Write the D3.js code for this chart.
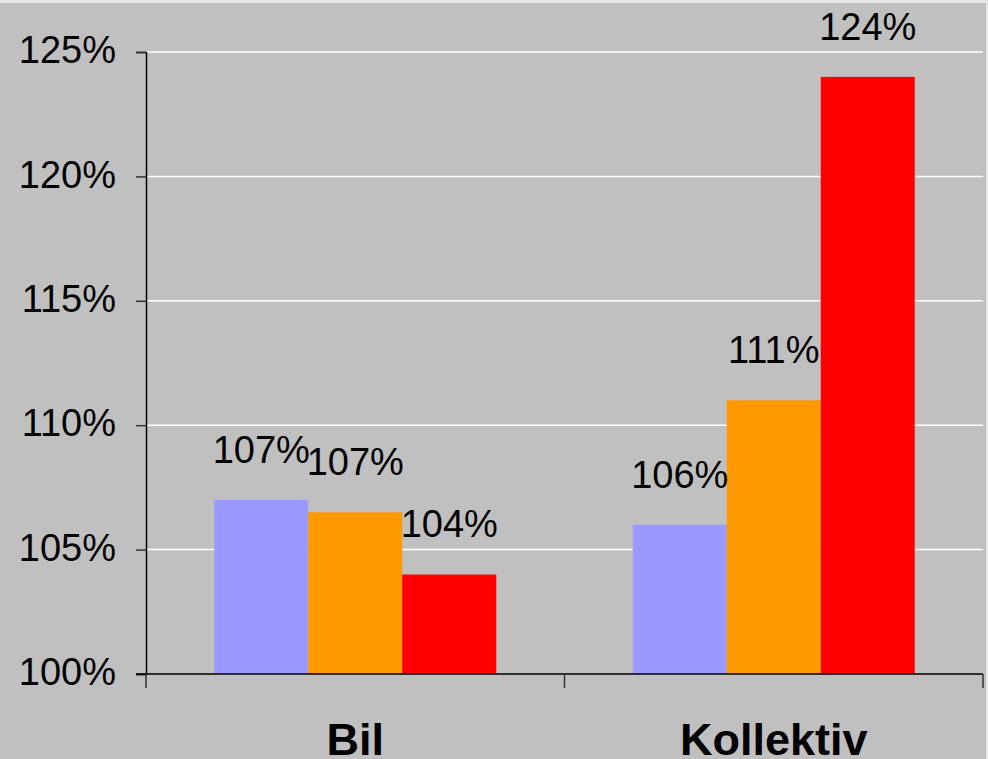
<!DOCTYPE html>
<html>
<head>
<meta charset="utf-8">
<script src="https://cdn.jsdelivr.net/npm/d3@7"></script>
<style>
  body { margin: 0; background: #c0c0c0; }
  svg { display: block; font-family: "Liberation Sans", Arial, sans-serif; }
</style>
</head>
<body>
<div id="chart"></div>
<script>
var categories = ["Bil", "Kollektiv"];
var series = ["s1", "s2", "s3"];
var seriesColors = ["#9999ff", "#ff9900", "#ff0000"];
var values = [
    [107.0, 106.5, 104.0],   // Bil
    [106.0, 111.0, 124.0]    // Kollektiv
];
var yTicks = [100, 105, 110, 115, 120, 125];

var width = 988, height = 759;
var plotLeft = 146, plotRight = 983, plotTop = 52, plotBottom = 674;

var svg = d3.select("#chart").append("svg")
    .attr("width", width)
    .attr("height", height);

svg.append("rect")
    .attr("width", width).attr("height", height)
    .attr("fill", "#c0c0c0");
svg.append("rect")
    .attr("width", width).attr("height", 3)
    .attr("fill", "#e6e6e6");
svg.append("rect")
    .attr("x", width - 2).attr("width", 2).attr("height", height)
    .attr("fill", "#e6e6e6");

var y = d3.scaleLinear().domain([100, 125]).range([plotBottom, plotTop]);
var x0 = d3.scaleBand().domain(categories).range([plotLeft, plotRight]);
var x1 = d3.scaleBand().domain(series).range([0, x0.bandwidth()])
    .paddingInner(0).paddingOuter(0.726);

// gridlines
svg.append("g").selectAll("line")
    .data(yTicks.filter(function(t) { return t > 100; }))
  .enter().append("line")
    .attr("x1", plotLeft).attr("x2", plotRight)
    .attr("y1", function(d) { return y(d); })
    .attr("y2", function(d) { return y(d); })
    .attr("stroke", "#ffffff")
    .attr("stroke-width", 1.5);

// bars
var groups = svg.append("g").selectAll("g")
    .data(categories)
  .enter().append("g")
    .attr("transform", function(d) { return "translate(" + x0(d) + ",0)"; });

groups.selectAll("rect")
    .data(function(d, i) {
        return series.map(function(s, j) { return {s: s, v: values[i][j], c: seriesColors[j]}; });
    })
  .enter().append("rect")
    .attr("x", function(d) { return x1(d.s); })
    .attr("width", x1.bandwidth())
    .attr("y", function(d) { return y(d.v); })
    .attr("height", function(d) { return y(100) - y(d.v); })
    .attr("fill", function(d) { return d.c; });

groups.selectAll("text")
    .data(function(d, i) {
        return series.map(function(s, j) { return {s: s, v: values[i][j]}; });
    })
  .enter().append("text")
    .attr("x", function(d) { return x1(d.s) + x1.bandwidth() / 2; })
    .attr("y", function(d) { return y(d.v) - 37; })
    .attr("text-anchor", "middle")
    .style("font-size", "38px")
    .attr("fill", "#000")
    .text(function(d) { return Math.round(d.v) + "%"; });

// y axis
var yAxis = d3.axisLeft(y)
    .tickValues(yTicks)
    .tickSize(10)
    .tickPadding(20)
    .tickFormat(function(d) { return d + "%"; });

var ya = svg.append("g")
    .attr("transform", "translate(" + plotLeft + ",0)")
    .call(yAxis)
    .attr("font-family", null)
    .attr("font-size", null);
ya.select(".domain").attr("stroke", "#000").attr("stroke-width", 1.5);
ya.selectAll(".tick line").attr("stroke", "#333").attr("stroke-width", 1.5);
ya.selectAll(".tick text")
    .style("font-size", "38px")
    .attr("fill", "#000")
    .attr("dy", "0.28em");

// x axis
var xa = svg.append("g")
    .attr("transform", "translate(0," + plotBottom + ")");
xa.append("line")
    .attr("x1", plotLeft - 10).attr("x2", plotRight)
    .attr("stroke", "#000").attr("stroke-width", 1.5);
xa.selectAll("line.tick")
    .data(d3.range(categories.length + 1))
  .enter().append("line")
    .attr("class", "tick")
    .attr("x1", function(i) { return plotLeft + i * x0.step(); })
    .attr("x2", function(i) { return plotLeft + i * x0.step(); })
    .attr("y1", 0).attr("y2", 14)
    .attr("stroke", "#333").attr("stroke-width", 1.5);
xa.selectAll("text")
    .data(categories)
  .enter().append("text")
    .attr("x", function(d) { return x0(d) + x0.bandwidth() / 2; })
    .attr("y", 81)
    .attr("text-anchor", "middle")
    .style("font-size", "45px")
    .style("font-weight", "bold")
    .attr("fill", "#000")
    .text(function(d) { return d; });
</script>
</body>
</html>
